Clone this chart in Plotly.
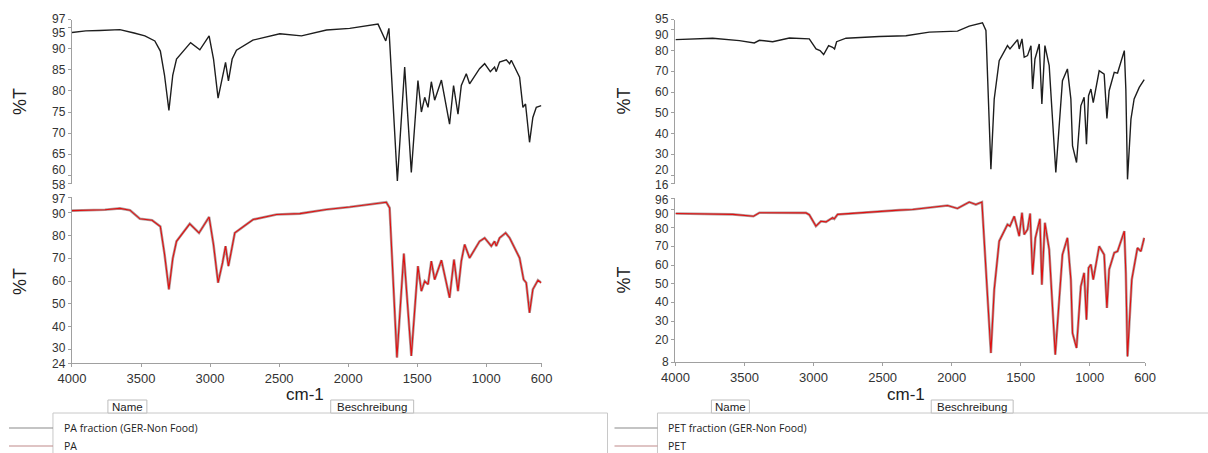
import plotly.graph_objects as go

W, H = 1208, 453

# ---------------- data ----------------
pa_frac_wn = [4000, 3900, 3800, 3653, 3550, 3472, 3400, 3360, 3330, 3298, 3270, 3243, 3141, 3074, 3007,
              2975, 2942, 2910, 2888, 2867, 2840, 2809, 2690, 2495, 2338, 2157, 1989, 1784, 1728, 1705,
              1644, 1591, 1543, 1495, 1470, 1446, 1422, 1398, 1374, 1325, 1266, 1237, 1205, 1181, 1145,
              1121, 1049, 1012, 971, 940, 928, 904, 855, 831, 819, 759, 735, 716, 687, 663, 638, 602]
pa_frac_t = [93.9, 94.3, 94.4, 94.6, 93.8, 93.1, 91.9, 89.5, 83.8, 75.4, 83.8, 87.6, 91.5, 89.8, 93.1,
             87.6, 78.3, 83.8, 86.8, 82.4, 87.6, 89.7, 92.1, 93.6, 93.1, 94.5, 94.9, 95.9, 91.9, 94.9,
             58.6, 85.7, 60.6, 82.5, 75.0, 78.5, 76.1, 82.2, 77.8, 82.6, 72.1, 81.3, 74.5, 81.3, 84.1,
             81.7, 85.3, 86.5, 84.6, 85.7, 84.6, 86.9, 87.4, 86.5, 87.3, 83.3, 76.1, 76.9, 67.8, 73.7, 76.1, 76.5]

pa_wn = [4000, 3761, 3653, 3580, 3508, 3420, 3360, 3330, 3298, 3270, 3243, 3147, 3080, 3007, 2975,
         2942, 2910, 2888, 2867, 2840, 2821, 2688, 2519, 2350, 2157, 1989, 1724, 1700, 1647, 1597,
         1543, 1495, 1470, 1446, 1422, 1398, 1374, 1325, 1266, 1234, 1205, 1181, 1157, 1121, 1049,
         1012, 964, 940, 928, 904, 860, 831, 759, 730, 711, 687, 663, 626, 602]
pa_t = [91.0, 91.4, 92.0, 91.2, 87.4, 86.8, 84.0, 72.0, 56.4, 70.0, 77.5, 85.2, 81.2, 88.2, 76.0,
        59.3, 68.0, 75.4, 66.6, 76.0, 81.2, 87.1, 89.3, 89.7, 91.5, 92.6, 94.7, 92.2, 26.4, 72.1,
        27.1, 66.6, 55.6, 60.0, 58.6, 68.8, 60.7, 69.2, 52.7, 69.5, 55.6, 68.8, 76.1, 70.2, 77.5,
        79.0, 75.4, 77.5, 75.4, 79.0, 81.2, 79.0, 70.2, 60.7, 59.3, 46.1, 56.4, 60.4, 59.3]

pet_frac_wn = [4000, 3730, 3537, 3429, 3392, 3296, 3175, 3031, 2982, 2953, 2927, 2891, 2862, 2848, 2833,
               2765, 2524, 2331, 2162, 1958, 1873, 1777, 1752, 1716, 1692, 1656, 1596, 1578, 1523, 1511,
               1491, 1475, 1451, 1426, 1414, 1397, 1366, 1347, 1325, 1294, 1246, 1198, 1162, 1137, 1125,
               1096, 1065, 1041, 1024, 1009, 992, 975, 932, 896, 876, 860, 823, 799, 750, 739, 727,
               702, 679, 642, 606]
pet_frac_t = [85.3, 86.0, 84.8, 83.7, 85.0, 84.3, 86.1, 85.7, 80.8, 80.0, 78.1, 82.4, 81.6, 80.8, 84.3,
              86.0, 86.8, 87.2, 88.9, 89.4, 91.8, 93.4, 89.7, 22.9, 56.7, 75.2, 82.4, 80.8, 85.3, 80.8,
              85.7, 76.8, 77.6, 82.4, 61.5, 76.0, 83.2, 54.3, 82.4, 72.8, 21.3, 65.5, 71.2, 56.7, 34.1,
              26.1, 53.4, 57.5, 34.9, 58.3, 61.5, 55.0, 70.3, 68.7, 47.3, 60.7, 69.6, 69.2, 80.0, 61.5, 18.0,
              47.0, 56.7, 62.3, 66.0]

pet_wn = [4000, 3585, 3435, 3392, 3055, 3031, 2983, 2947, 2910, 2862, 2850, 2826, 2380, 2283, 2030,
          1958, 1873, 1825, 1781, 1716, 1692, 1656, 1596, 1578, 1547, 1511, 1491, 1475, 1451, 1432,
          1414, 1394, 1361, 1347, 1325, 1294, 1250, 1198, 1162, 1137, 1125, 1096, 1065, 1041, 1024,
          1009, 992, 975, 932, 896, 876, 860, 823, 799, 750, 739, 727, 696, 655, 630, 606]
pet_t = [87.7, 87.2, 86.2, 88.1, 88.0, 87.0, 80.9, 83.5, 83.2, 85.4, 84.8, 87.2, 89.5, 89.8, 92.0,
         90.4, 93.8, 92.5, 93.8, 12.8, 46.8, 72.8, 81.8, 80.9, 86.2, 75.5, 88.1, 76.4, 79.1, 87.7,
         54.9, 74.6, 84.8, 49.5, 82.7, 68.3, 11.9, 65.6, 74.6, 52.2, 23.5, 15.5, 48.6, 55.8, 30.7,
         58.5, 60.3, 52.2, 70.1, 65.6, 37.0, 57.6, 66.6, 67.4, 78.2, 55.8, 11.0, 52.2, 69.2, 67.4, 74.6]

x_ticks = [4000, 3500, 3000, 2500, 2000, 1500, 1000, 600]
y_ticks_pa_frac = [97, 95, 90, 85, 80, 75, 70, 65, 60, 58]
y_ticks_pa = [97, 90, 80, 70, 60, 50, 40, 30, 24]
y_ticks_pet_frac = [95, 90, 80, 70, 60, 50, 40, 30, 20, 16]
y_ticks_pet = [96, 90, 80, 70, 60, 50, 40, 30, 20, 8]

legend_left = ["PA fraction (GER-Non Food)", "PA"]
legend_right = ["PET fraction (GER-Non Food)", "PET"]

# label nudges in pixels (the original software shifts crowded end labels apart)
nudge_pa_frac = {97: 1, 95: -5, 60: 5, 58: -1}
nudge_pa = {97: -2, 90: -1, 30: 1, 24: -1}
nudge_pet_frac = {95: 1, 90: -5, 20: 5, 16: -1}
nudge_pet = {96: -1.5, 90: -5, 80: -1}

# ---------------- helpers ----------------
# the page shows the plotly paper from screen x=14 to x=1198
PX0, PXW = 14.0, 1184.0

def fx(px):
    return (px - PX0) / PXW

def fy(py):
    return 1 - py / H

FONT = "Liberation Sans, Arial, sans-serif"
TICKFONT = dict(family=FONT, size=13, color="#333333")
YTICKFONT = dict(family=FONT, size=12, color="#333333")
AXCOL = "#a0a0a0"

fig = go.Figure()

fig.add_trace(go.Scatter(x=pa_frac_wn, y=pa_frac_t, mode="lines", xaxis="x", yaxis="y",
                         line=dict(color="#1e1e1e", width=1.4), showlegend=False))
fig.add_trace(go.Scatter(x=pa_wn, y=pa_t, mode="lines", xaxis="x2", yaxis="y2",
                         line=dict(color="#b09a9a", width=2.6), showlegend=False))
fig.add_trace(go.Scatter(x=pa_wn, y=pa_t, mode="lines", xaxis="x2", yaxis="y2",
                         line=dict(color="#e01010", width=1.1), showlegend=False))
fig.add_trace(go.Scatter(x=pet_frac_wn, y=pet_frac_t, mode="lines", xaxis="x3", yaxis="y3",
                         line=dict(color="#1e1e1e", width=1.4), showlegend=False))
fig.add_trace(go.Scatter(x=pet_wn, y=pet_t, mode="lines", xaxis="x4", yaxis="y4",
                         line=dict(color="#b09a9a", width=2.6), showlegend=False))
fig.add_trace(go.Scatter(x=pet_wn, y=pet_t, mode="lines", xaxis="x4", yaxis="y4",
                         line=dict(color="#e01010", width=1.1), showlegend=False))

xl = [fx(72), fx(542)]
xr = [fx(676), fx(1146)]
ytop = [fy(183.5), fy(19.5)]
ybl = [fy(363), fy(197)]
ybr = [fy(362), fy(198)]

def yax(domain, rng, ticks, anchor):
    return dict(domain=domain, range=rng, tickvals=ticks, showticklabels=False,
                showline=True, linecolor=AXCOL, linewidth=1, ticks="outside", ticklen=3,
                tickcolor=AXCOL, showgrid=False, zeroline=False, anchor=anchor, fixedrange=True)

def xax(domain, anchor, visible):
    d = dict(domain=domain, range=[4000, 600], anchor=anchor, showgrid=False, zeroline=False,
             fixedrange=True)
    if visible:
        d.update(tickvals=x_ticks, ticktext=[str(t) for t in x_ticks], showline=True,
                 linecolor=AXCOL, linewidth=1, ticks="outside", ticklen=3, tickcolor=AXCOL,
                 tickfont=TICKFONT)
    else:
        d.update(visible=False)
    return d

fig.update_layout(
    width=W, height=H, autosize=False,
    margin=dict(l=0, r=0, t=0, b=0),
    paper_bgcolor="white", plot_bgcolor="white",
    xaxis=xax(xl, "y", False),
    yaxis=yax(ytop, [58, 97], y_ticks_pa_frac, "x"),
    xaxis2=xax(xl, "y2", True),
    yaxis2=yax(ybl, [24, 97], y_ticks_pa, "x2"),
    xaxis3=xax(xr, "y3", False),
    yaxis3=yax(ytop, [16, 95], y_ticks_pet_frac, "x3"),
    xaxis4=xax(xr, "y4", True),
    yaxis4=yax(ybr, [8, 96], y_ticks_pet, "x4"),
)

annotations = []
shapes = []

for ticks, nudge, yref, xpos in [(y_ticks_pa_frac, nudge_pa_frac, "y", xl[0]),
                                 (y_ticks_pa, nudge_pa, "y2", xl[0]),
                                 (y_ticks_pet_frac, nudge_pet_frac, "y3", xr[0]),
                                 (y_ticks_pet, nudge_pet, "y4", xr[0])]:
    for t in ticks:
        annotations.append(dict(x=xpos, y=t, xref="paper", yref=yref, text=str(t),
                                showarrow=False, xanchor="right", yanchor="middle",
                                xshift=-4, yshift=nudge.get(t, 0), font=YTICKFONT))

def txt(x, y, s, size, angle=0, family=FONT, color="#222222", xanchor="center"):
    annotations.append(dict(x=fx(x), y=fy(y), xref="paper", yref="paper", text=s, showarrow=False,
                            textangle=angle, xanchor=xanchor, yanchor="middle",
                            font=dict(family=family, size=size, color=color)))

for (x, y) in [(20, 101), (20, 281), (625, 101), (625, 280)]:
    txt(x, y, "%T", 18, angle=-90)
txt(305, 394.5, "cm-1", 17)
txt(907, 394.5, "cm-1", 17)

def box(x0, y0, x1, y1, color="#c8c8c8"):
    shapes.append(dict(type="rect", xref="paper", yref="paper", x0=fx(x0), x1=fx(x1),
                       y0=fy(y1), y1=fy(y0), line=dict(color=color, width=1), fillcolor="white",
                       layer="above"))

def hline(x0, x1, y, color, width=1.2):
    shapes.append(dict(type="line", xref="paper", yref="paper", x0=fx(x0), x1=fx(x1),
                       y0=fy(y), y1=fy(y), line=dict(color=color, width=width), layer="above"))

LEGFONT = "Open Sans, Liberation Sans, sans-serif"
for (bx0, bx1, tab1, tab2, lx0, names) in [
        (53, 608, (108, 147), (331, 414), 9, legend_left),
        (658, 1215, (712, 750), (932, 1014), 615, legend_right)]:
    box(bx0, 413, bx1, 460)
    box(tab1[0], 400, tab1[1], 413, color="#bdbdbd")
    box(tab2[0], 400, tab2[1], 413, color="#bdbdbd")
    txt((tab1[0] + tab1[1]) / 2, 406.5, "Name", 11.5)
    txt((tab2[0] + tab2[1]) / 2, 406.5, "Beschreibung", 11.5)
    hline(lx0, bx0, 428, "#8a8a8a")
    hline(lx0, bx0, 446, "#c08a8a")
    txt(bx0 + 9, 428, names[0], 10.5, family=LEGFONT, xanchor="left")
    txt(bx0 + 9, 446, names[1], 10.5, family=LEGFONT, xanchor="left")

fig.update_layout(annotations=annotations, shapes=shapes)

fig.write_html("out.html")
